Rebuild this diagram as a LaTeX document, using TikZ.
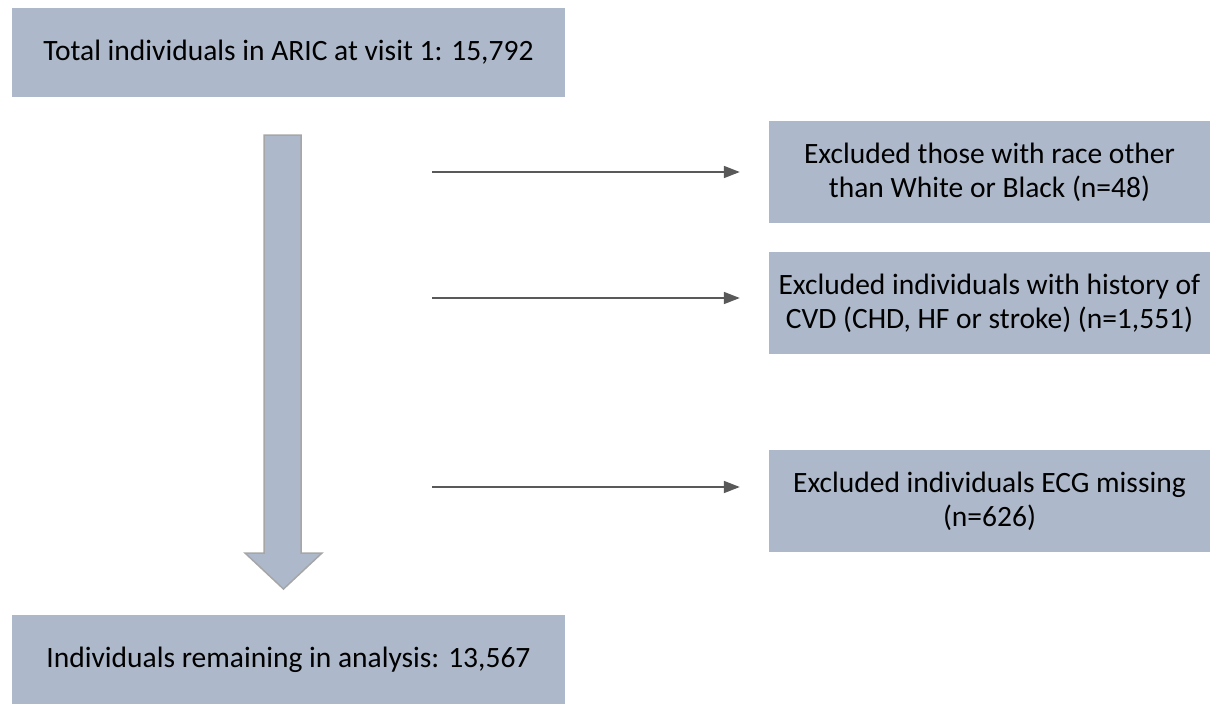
\documentclass[tikz,border=0pt]{standalone}
\usepackage{fontspec}
\setmainfont{Carlito}
\usetikzlibrary{arrows.meta}
\definecolor{boxfill}{HTML}{ADB9CA}
\definecolor{linegray}{HTML}{595959}
\definecolor{rimgray}{HTML}{A6A6A6}
\begin{document}
\begin{tikzpicture}[x=1pt,y=-1pt,>={Triangle[length=16pt,width=12pt]},
    box/.style={fill=boxfill,inner sep=0pt,align=center,font=\fontsize{29.5}{34}\selectfont},
    mainbox/.style={box,minimum width=553pt,minimum height=89pt},
    exbox/.style={box,minimum width=441pt,minimum height=102pt},
    excl/.style={->,linegray,line width=1.75pt,shorten >=29pt}]
            \useasboundingbox(0,0)rectangle(1210,704);
            \node[mainbox](tot)at(288.5,52.5){Total individuals in ARIC at visit 1: 15,792};
            \node[mainbox](rem)at(288.5,659.5){Individuals remaining in analysis: 13,567};
            \node[exbox](ex1)at(989.5,172){Excluded those with race other\\than White or Black (n=48)};
            \node[exbox](ex2)at(989.5,303){Excluded individuals with history of\\CVD (CHD, HF or stroke) (n=1,551)};
            \node[exbox](ex3)at(989.5,501){Excluded individuals ECG missing\\(n=626)};
            % block arrow down the left side
            \draw[rimgray,line width=1.5pt,fill=boxfill](264,135)--(301,135)--(301,553)--(322,553)
                --(283.5,589)--(245,553)--(264,553)--cycle;
            \coordinate(s1)at(432,172);
            \coordinate(s2)at(432,298);
            \coordinate(s3)at(432,487);
            \draw[excl](s1)--(s1-|ex1.west);
            \draw[excl](s2)--(s2-|ex2.west);
            \draw[excl](s3)--(s3-|ex3.west);
        \end{tikzpicture}
\end{document}
